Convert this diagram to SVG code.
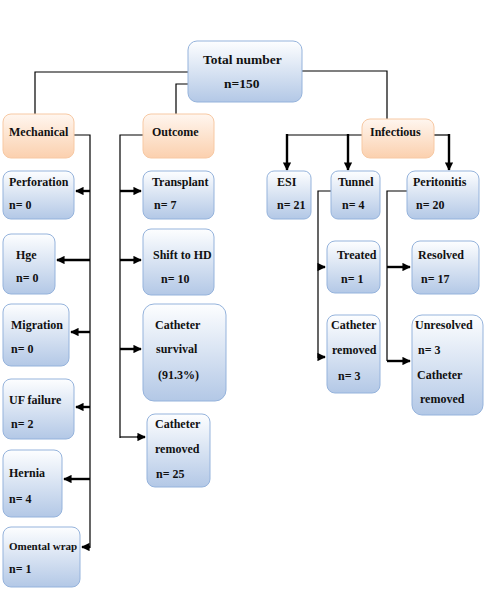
<svg xmlns="http://www.w3.org/2000/svg" width="485" height="592" viewBox="0 0 485 592">
<defs>
<linearGradient id="gb" x1="0" y1="0" x2="0" y2="1">
<stop offset="0" stop-color="#fdfeff"/><stop offset="1" stop-color="#b3c8e6"/>
</linearGradient>
<linearGradient id="go" x1="0" y1="0" x2="0" y2="1">
<stop offset="0" stop-color="#fff6ef"/><stop offset="1" stop-color="#fbd0ae"/>
</linearGradient>
<marker id="ah" viewBox="0 0 10 10" refX="9" refY="5" markerWidth="3.5" markerHeight="3.5" orient="auto" markerUnits="strokeWidth">
<path d="M0,0 L10,5 L0,10 z" fill="#000"/>
</marker>
</defs>
<style>
.b{fill:url(#gb);stroke:#95b3dc;stroke-width:1}
.o{fill:url(#go);stroke:#f7c9a4;stroke-width:1}
text{font-family:"Liberation Serif","Times New Roman",serif;font-weight:bold;font-size:12px;fill:#111}
.t{font-size:13.5px}
.s{font-size:11px}
.c{fill:none;stroke:#000;stroke-width:1.2}
.a{fill:none;stroke:#000;stroke-width:2.4;marker-end:url(#ah)}
.a1{fill:none;stroke:#000;stroke-width:1.2}
</style>
<rect width="485" height="592" fill="#fff"/>

<g id="connectors">
<path class="c" d="M188,72 H35 V115"/>
<path class="c" d="M188,84 H176 V114"/>
<path class="c" d="M302,71 H387 V119"/>
<path class="c" d="M74,135 H90 V548"/>
<path class="a" d="M90,191 H76"/>
<path class="a" d="M90,260 H57"/>
<path class="a" d="M90,332 H71"/>
<path class="a" d="M90,407 H76"/>
<path class="a" d="M90,479 H64"/>
<path class="a" d="M90,547 H82"/>
<path class="c" d="M143,135 H120 V438"/>
<path class="a" d="M120,191 H141"/>
<path class="a" d="M120,260 H141"/>
<path class="a" d="M120,349 H141"/>
<path class="a1" d="M120,437 H139"/>
<path class="a" d="M137,437 H145"/>
<path class="c" d="M362,135 H287"/>
<path class="c" d="M434,135 H449"/>
<path class="a" d="M287,134 V170"/>
<path class="a" d="M348,134 V170"/>
<path class="a" d="M449,134 V170"/>
<path class="c" d="M331,191 H318 V358"/>
<path class="a" d="M318,267 H325"/>
<path class="a" d="M318,357 H325"/>
<path class="c" d="M407,191 H387 V361"/>
<path class="a" d="M387,267 H410"/>
<path class="a" d="M387,361 H410"/>
</g>

<g id="total"><rect class="b" x="188" y="41" width="114" height="61" rx="9"/>
<text class="t" x="203" y="64">Total number</text><text class="t" x="224" y="88">n=150</text></g>

<g id="mechanical"><rect class="o" x="3" y="114" width="71" height="44" rx="8"/><text x="9" y="136">Mechanical</text></g>
<g id="outcome"><rect class="o" x="143" y="114" width="71" height="44" rx="8"/><text x="152" y="136">Outcome</text></g>
<g id="infectious"><rect class="o" x="362" y="119" width="72" height="39" rx="8"/><text x="370" y="136">Infectious</text></g>

<g id="perforation"><rect class="b" x="3" y="171" width="71" height="48" rx="8"/><text x="9" y="186">Perforation</text><text x="9" y="209">n= 0</text></g>
<g id="hge"><rect class="b" x="3" y="234" width="52" height="60" rx="8"/><text x="16" y="259">Hge</text><text x="16" y="282">n= 0</text></g>
<g id="migration"><rect class="b" x="3" y="304" width="66" height="62" rx="8"/><text x="11" y="329">Migration</text><text x="11" y="353">n= 0</text></g>
<g id="uf"><rect class="b" x="3" y="379" width="71" height="60" rx="8"/><text x="9" y="404">UF failure</text><text x="11" y="428">n= 2</text></g>
<g id="hernia"><rect class="b" x="3" y="450" width="59" height="67" rx="8"/><text x="9" y="477">Hernia</text><text x="9" y="503">n= 4</text></g>
<g id="omental"><rect class="b" x="3" y="527" width="77" height="60" rx="8"/><text class="s" x="9" y="550">Omental wrap</text><text x="9" y="573">n= 1</text></g>

<g id="transplant"><rect class="b" x="143" y="171" width="71" height="48" rx="8"/><text x="152" y="186">Transplant</text><text x="154" y="209">n= 7</text></g>
<g id="shift"><rect class="b" x="143" y="229" width="71" height="66" rx="8"/><text x="153" y="259">Shift to HD</text><text x="161" y="283">n= 10</text></g>
<g id="survival"><rect class="b" x="143" y="304" width="83" height="97" rx="11"/><text x="155" y="329">Catheter</text><text x="156" y="353">survival</text><text x="158" y="379">(91.3%)</text></g>
<g id="removed25"><rect class="b" x="147" y="414" width="63" height="73" rx="8"/><text x="155" y="428">Catheter</text><text x="155" y="453">removed</text><text x="156" y="478">n= 25</text></g>

<g id="esi"><rect class="b" x="267" y="171" width="44" height="48" rx="7"/><text x="277" y="186">ESI</text><text x="277" y="209">n= 21</text></g>
<g id="tunnel"><rect class="b" x="331" y="171" width="49" height="48" rx="7"/><text x="338" y="186">Tunnel</text><text x="342" y="209">n= 4</text></g>
<g id="peritonitis"><rect class="b" x="407" y="171" width="72" height="48" rx="8"/><text x="413" y="186">Peritonitis</text><text x="416" y="209">n= 20</text></g>
<g id="treated"><rect class="b" x="327" y="241" width="53" height="52" rx="8"/><text x="337" y="259">Treated</text><text x="341" y="283">n= 1</text></g>
<g id="removed3"><rect class="b" x="327" y="315" width="53" height="78" rx="8"/><text x="331" y="329">Catheter</text><text x="332" y="354">removed</text><text x="338" y="380">n= 3</text></g>
<g id="resolved"><rect class="b" x="412" y="241" width="67" height="53" rx="8"/><text x="418" y="259">Resolved</text><text x="421" y="283">n= 17</text></g>
<g id="unresolved"><rect class="b" x="412" y="315" width="71" height="100" rx="10"/><text x="415" y="329">Unresolved</text><text x="418" y="354">n= 3</text><text x="417" y="379">Catheter</text><text x="420" y="403">removed</text></g>
</svg>
